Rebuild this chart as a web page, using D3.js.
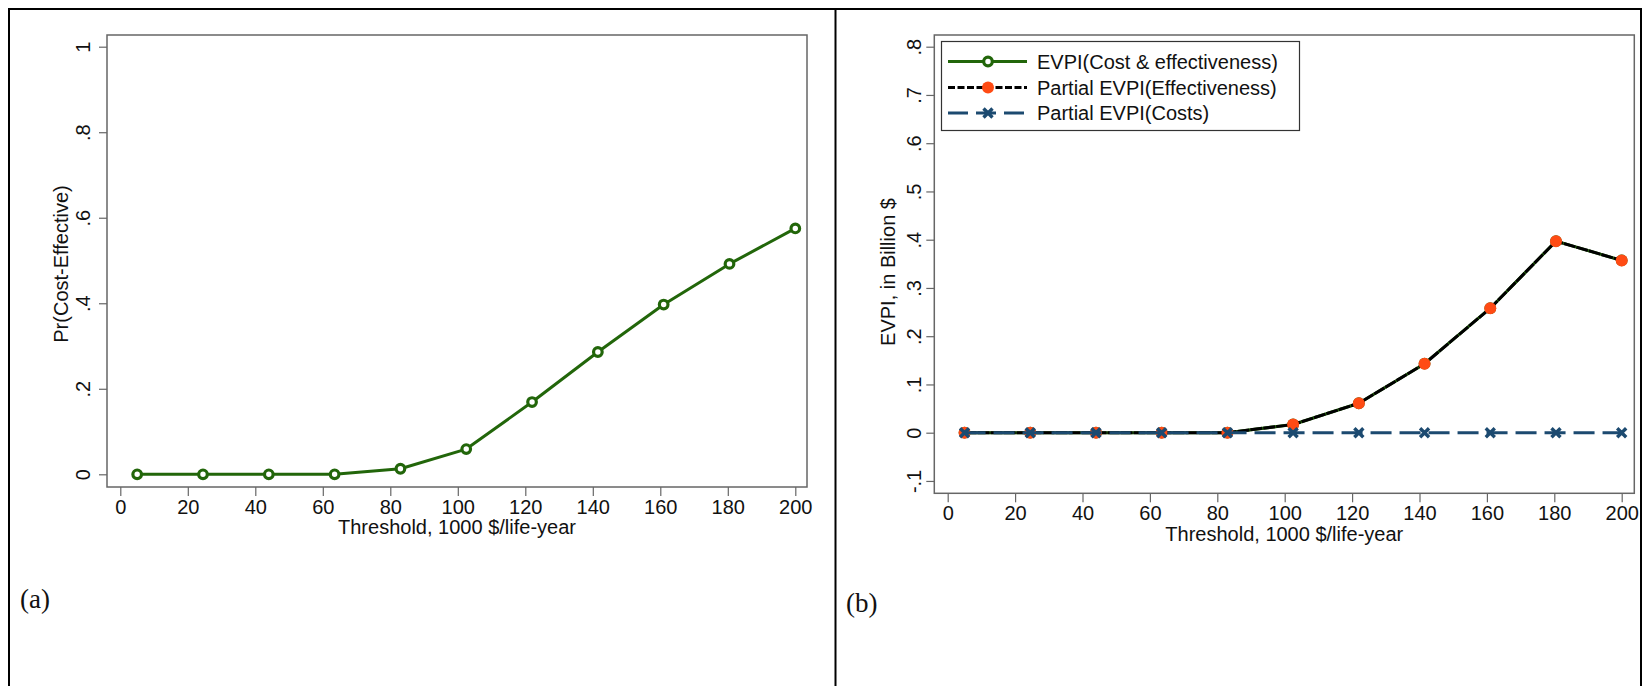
<!DOCTYPE html>
<html>
<head>
<meta charset="utf-8">
<script src="https://cdn.jsdelivr.net/npm/d3@7"></script>
<style>
  body { margin: 0; background: #fff; }
  svg { display: block; }
  .tick text { font-family: "Liberation Sans", Arial, sans-serif; font-size: 20px; fill: #111; }
  .tick line { stroke: #666; stroke-width: 1.2; }
  .ttl { font-family: "Liberation Sans", Arial, sans-serif; font-size: 20px; fill: #111; }
  .lab { font-family: "Liberation Serif", "Times New Roman", serif; font-size: 27px; fill: #111; }
</style>
</head>
<body>
<svg id="chart" width="1644" height="686"></svg>
<script>
// thresholds (1000 $/life-year)
const thresholds = [5, 24.5, 44, 63.5, 83, 102.5, 122, 141.5, 161, 180.5, 200];
// panel (a) probability cost-effective
const prCostEffective = [0, 0, 0, 0, 0.013, 0.059, 0.169, 0.286, 0.397, 0.492, 0.575];
// panel (b) EVPI series, billion $
const evpiTotal = [0, 0, 0, 0, 0, 0.017, 0.061, 0.143, 0.258, 0.397, 0.357];
const evpiEffect = [0, 0, 0, 0, 0, 0.017, 0.061, 0.143, 0.258, 0.397, 0.357];
const evpiCosts = [0, 0, 0, 0, 0, 0, 0, 0, 0, 0, 0];

const xTicks = [0, 20, 40, 60, 80, 100, 120, 140, 160, 180, 200];
const yTicksA = [0, 0.2, 0.4, 0.6, 0.8, 1];
const yTicksB = [-0.1, 0, 0.1, 0.2, 0.3, 0.4, 0.5, 0.6, 0.7, 0.8];
const seriesNames = ["EVPI(Cost & effectiveness)", "Partial EVPI(Effectiveness)", "Partial EVPI(Costs)"];

const GREEN = "#22660a", ORANGE = "#ff4b14", NAVY = "#1c4a70";

const svg = d3.select("#chart");

// stata style labels: .8, -.1
const fmt = v => String(+v.toFixed(3)).replace(/^0\./, ".").replace(/^-0\./, "-.");

// outer frame + divider
svg.append("rect").attr("x", 9).attr("y", 9).attr("width", 1632).attr("height", 700)
  .attr("fill", "none").attr("stroke", "#000").attr("stroke-width", 2);
svg.append("line").attr("x1", 835.5).attr("x2", 835.5).attr("y1", 9).attr("y2", 686)
  .attr("stroke", "#000").attr("stroke-width", 2);

function panel(opt) {
  const g = svg.append("g");
  const x = d3.scaleLinear().domain([0, 200]).range(opt.xr);
  const y = d3.scaleLinear().domain(opt.yd).range(opt.yr);

  g.append("rect").attr("x", opt.box[0]).attr("y", opt.box[1])
    .attr("width", opt.box[2] - opt.box[0]).attr("height", opt.box[3] - opt.box[1])
    .attr("fill", "#fff").attr("stroke", "#666").attr("stroke-width", 1.5);

  const ya = g.append("g").attr("transform", `translate(${opt.box[0]},0)`)
    .call(d3.axisLeft(y).tickValues(opt.yt).tickSize(8).tickPadding(0).tickFormat(fmt));
  ya.select(".domain").remove();
  ya.selectAll(".tick text")
    .attr("x", null).attr("dy", null)
    .attr("text-anchor", "middle")
    .attr("transform", `translate(${-opt.ylabOff},0) rotate(-90)`)
    .attr("dy", "0.35em");

  const xa = g.append("g").attr("transform", `translate(0,${opt.box[3]})`)
    .call(d3.axisBottom(x).tickValues(xTicks).tickSize(9).tickPadding(4));
  xa.select(".domain").remove();

  g.append("text").attr("class", "ttl").attr("text-anchor", "middle")
    .attr("x", (opt.box[0] + opt.box[2]) / 2).attr("y", opt.xtY)
    .text("Threshold, 1000 $/life-year");
  g.append("text").attr("class", "ttl").attr("text-anchor", "middle")
    .attr("transform", `translate(${opt.ytX},${opt.ytY}) rotate(-90)`)
    .text(opt.ytitle);
  g.append("text").attr("class", "lab").attr("x", opt.lab[0]).attr("y", opt.lab[1]).text(opt.label);
  return {g, x, y};
}

function drawLine(g, x, y, vals, color, dash) {
  const line = d3.line().x((d, i) => x(thresholds[i])).y(d => y(d));
  g.append("path").datum(vals).attr("d", line).attr("fill", "none")
    .attr("stroke", color).attr("stroke-width", 3)
    .attr("stroke-dasharray", dash || null).attr("stroke-linejoin", "round");
}
function hollow(g, cx, cy) {
  g.append("circle").attr("cx", cx).attr("cy", cy).attr("r", 4.3)
    .attr("fill", "#fff").attr("stroke", GREEN).attr("stroke-width", 3.2);
}
function dot(g, cx, cy) {
  g.append("circle").attr("cx", cx).attr("cy", cy).attr("r", 6).attr("fill", ORANGE);
}
function cross(g, cx, cy) {
  const s = 4.5;
  g.append("path").attr("d", `M${cx - s},${cy - s}L${cx + s},${cy + s}M${cx - s},${cy + s}L${cx + s},${cy - s}`)
    .attr("stroke", NAVY).attr("stroke-width", 3.4);
}

// panel (a)
const A = panel({
  xr: [120.3, 795.3], yd: [0, 1], yr: [474.3, 46.7], box: [107, 35, 807, 487],
  yt: yTicksA, ylabOff: 24, xtY: 534, ytX: 68, ytY: 264,
  ytitle: "Pr(Cost-Effective)", lab: [20, 608], label: "(a)"
});
drawLine(A.g, A.x, A.y, prCostEffective, GREEN);
prCostEffective.forEach((v, i) => hollow(A.g, A.x(thresholds[i]), A.y(v)));

// panel (b)
const B = panel({
  xr: [947.7, 1621.7], yd: [0, 0.8], yr: [432.7, 46.7], box: [934.3, 35, 1634.3, 493.3],
  yt: yTicksB, ylabOff: 20, xtY: 541, ytX: 895, ytY: 272,
  ytitle: "EVPI, in Billion $", lab: [846, 612], label: "(b)"
});
drawLine(B.g, B.x, B.y, evpiTotal, GREEN);
evpiTotal.forEach((v, i) => hollow(B.g, B.x(thresholds[i]), B.y(v)));
drawLine(B.g, B.x, B.y, evpiEffect, "#000", "12,1");
evpiEffect.forEach((v, i) => dot(B.g, B.x(thresholds[i]), B.y(v)));
drawLine(B.g, B.x, B.y, evpiCosts, NAVY, "21,8");
evpiCosts.forEach((v, i) => cross(B.g, B.x(thresholds[i]), B.y(v)));

// legend
const lg = B.g.append("g");
lg.append("rect").attr("x", 941.5).attr("y", 41.5).attr("width", 358).attr("height", 89)
  .attr("fill", "#fff").attr("stroke", "#333").attr("stroke-width", 1.2);
const rowsY = [61.5, 87.5, 113];
const styles = [
  {c: GREEN, dash: null, m: hollow},
  {c: "#000", dash: "7,2.5", m: dot},
  {c: NAVY, dash: "20,8", m: cross}
];
seriesNames.forEach((name, i) => {
  const yy = rowsY[i];
  lg.append("line").attr("x1", 948).attr("x2", 1027).attr("y1", yy).attr("y2", yy)
    .attr("stroke", styles[i].c).attr("stroke-width", 3).attr("stroke-dasharray", styles[i].dash);
  styles[i].m(lg, 988, yy);
  lg.append("text").attr("class", "ttl").attr("x", 1037).attr("y", yy).attr("dy", "0.35em").text(name);
});
</script>
</body>
</html>
